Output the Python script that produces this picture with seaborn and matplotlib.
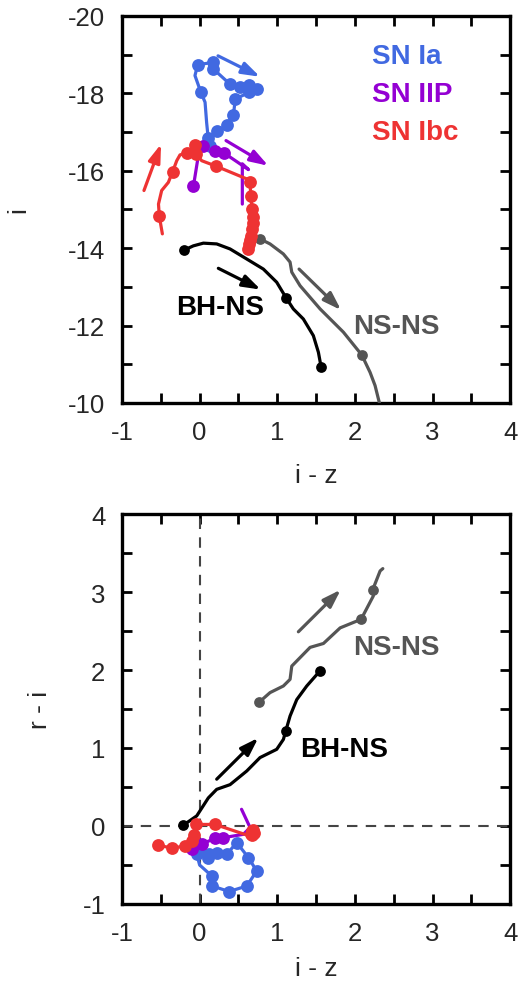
import numpy as np
import pandas as pd
import matplotlib
matplotlib.use("Agg")
import matplotlib.pyplot as plt
import seaborn as sns

# ---------------- colours ----------------
C_IA = "#4169E1"
C_IIP = "#9400D3"
C_IBC = "#EE3333"
C_NSNS = "#555555"
C_BHNS = "#000000"

# ---------------- upper panel: i vs i-z ----------------
# SN Ia
ia_top_x = [0.12, 0.09, 0.07, 0.014, -0.06, -0.025, 0.17, 0.177, 0.39, 0.52, 0.64, 0.63, 0.735,
            0.46, 0.435, 0.35, 0.23, 0.11, 0.14]
ia_top_y = [-16.65, -17.25, -17.77, -18.04, -18.46, -18.74, -18.80, -18.63, -18.24, -18.16, -18.22,
            -18.03, -18.11, -17.86, -17.44, -17.18, -17.02, -16.84, -16.65]
ia_top_dot = [0, 0, 0, 1, 0, 1, 1, 1, 1, 1, 1, 1, 1, 1, 1, 1, 1, 1, 1]

# SN IIP
iip_top_x = [-0.08, -0.02, 0.0, 0.04, 0.198, 0.314, 0.63, 0.55, 0.55]
iip_top_y = [-15.60, -16.35, -16.60, -16.65, -16.52, -16.46, -16.03, -16.18, -15.14]
iip_top_dot = [1, 0, 0, 1, 1, 1, 0, 0, 0]

# SN Ibc
ibc_top_x = [-0.48, -0.519, -0.53, -0.489, -0.403, -0.347, -0.295, -0.253, -0.166, -0.059,
             -0.046, 0.027, 0.211, 0.607, 0.65, 0.658, 0.675, 0.685, 0.683, 0.675, 0.66, 0.645,
             0.635, 0.628]
ibc_top_y = [-14.37, -14.82, -15.14, -15.49, -15.70, -15.98, -16.26, -16.41, -16.46, -16.67,
             -16.43, -16.26, -16.12, -15.79, -15.70, -15.36, -15.01, -14.80, -14.65, -14.50,
             -14.32, -14.20, -14.11, -13.98]
ibc_top_dot = [0, 1, 0, 0, 0, 1, 0, 0, 1, 1, 1, 0, 1, 0, 1, 1, 1, 1, 1, 1, 1, 1, 1, 1]

# NS-NS merger
nsns_top_x = [0.778, 0.907, 1.079, 1.165, 1.187, 1.294, 1.552, 1.852, 2.089, 2.196, 2.26, 2.316]
nsns_top_y = [-14.24, -14.11, -13.85, -13.64, -13.38, -13.03, -12.43, -11.83, -11.24, -10.79,
              -10.45, -10.0]
nsns_top_dot = [1, 0, 0, 0, 0, 0, 0, 0, 1, 0, 0, 0]

# BH-NS merger
bhns_top_x = [-0.201, -0.081, 0.048, 0.22, 0.392, 0.607, 0.821, 0.993, 1.113, 1.207, 1.336,
              1.465, 1.53, 1.564]
bhns_top_y = [-13.95, -14.06, -14.13, -14.11, -13.98, -13.72, -13.46, -13.12, -12.72, -12.43,
              -12.17, -11.74, -11.31, -10.94]
bhns_top_dot = [1, 0, 0, 0, 0, 0, 0, 0, 1, 0, 0, 0, 0, 1]

# direction-of-time arrows (start x, start y, end x, end y)
arrows_top = [
    (0.237, -18.97, 0.778, -18.43, C_IA),
    (0.34, -16.78, 0.885, -16.13, C_IIP),
    (-0.717, -15.49, -0.497, -16.69, C_IBC),
    (0.241, -13.48, 0.787, -12.93, C_BHNS),
    (1.281, -13.46, 1.822, -12.40, C_NSNS),
]

# ---------------- lower panel: r-i vs i-z ----------------
ia_bot_x = [0.08, 0.0, -0.037, 0.0, 0.156, 0.164, 0.379, 0.607, 0.735, 0.628, 0.478, 0.349,
            0.22, 0.104, 0.12]
ia_bot_y = [-0.33, -0.30, -0.363, -0.50, -0.64, -0.77, -0.84, -0.77, -0.577, -0.405, -0.213,
            -0.363, -0.34, -0.405, -0.36]
ia_bot_dot = [0, 1, 1, 0, 1, 1, 1, 1, 1, 1, 1, 1, 1, 1, 1]

iip_bot_x = [-0.102, 0.027, 0.198, 0.305, 0.563, 0.65, 0.54]
iip_bot_y = [-0.29, -0.23, -0.16, -0.15, -0.107, -0.02, 0.214]
iip_bot_dot = [1, 1, 1, 1, 0, 0, 0]

ibc_bot_x = [-0.532, -0.36, -0.188, -0.102, -0.072, -0.046, 0.198, 0.649, 0.67, 0.69, 0.70,
             0.68, 0.66]
ibc_bot_y = [-0.25, -0.28, -0.26, -0.19, -0.11, 0.02, 0.02, -0.13, -0.06, -0.05, -0.09,
             -0.12, -0.10]
ibc_bot_dot = [1, 1, 1, 1, 1, 1, 1, 0, 1, 1, 1, 1, 1]

nsns_bot_x = [0.77, 0.907, 1.079, 1.165, 1.187, 1.423, 1.595, 1.81, 2.08, 2.238, 2.23, 2.325,
              2.36]
nsns_bot_y = [1.59, 1.71, 1.795, 1.88, 2.05, 2.29, 2.34, 2.54, 2.65, 2.95, 3.03, 3.27, 3.30]
nsns_bot_dot = [1, 0, 0, 0, 0, 0, 0, 0, 1, 0, 1, 0, 0]

bhns_bot_x = [-0.21, -0.037, 0.112, 0.22, 0.392, 0.607, 0.778, 0.993, 1.079, 1.11, 1.165,
              1.251, 1.38, 1.552]
bhns_bot_y = [0.01, 0.13, 0.36, 0.47, 0.53, 0.705, 0.877, 0.983, 1.11, 1.22, 1.41, 1.62,
              1.795, 1.99]
bhns_bot_dot = [1, 0, 0, 0, 0, 0, 0, 0, 0, 1, 0, 0, 0, 1]

arrows_bot = [
    (0.22, 0.60, 0.756, 1.13, C_BHNS),
    (1.272, 2.49, 1.818, 3.03, C_NSNS),
]

legend_names = ["SN Ia", "SN IIP", "SN Ibc"]
legend_colors = [C_IA, C_IIP, C_IBC]

sns.set_theme(style="ticks")
plt.rcParams["font.family"] = ["Liberation Sans", "DejaVu Sans"]

fig = plt.figure(figsize=(5.27, 9.87), dpi=100)
ax1 = fig.add_axes([0.2315, 0.5907, 0.7365, 0.3921])
ax2 = fig.add_axes([0.2315, 0.0831, 0.7365, 0.3951])


def track(ax, xs, ys, dots, color, lw=2.3, ms=60, z=3):
    df = pd.DataFrame({"x": xs, "y": ys, "dot": dots})
    sns.lineplot(data=df, x="x", y="y", sort=False, estimator=None, color=color,
                 lw=lw, ax=ax, zorder=z)
    d = df[df["dot"] == 1]
    sns.scatterplot(data=d, x="x", y="y", color=color, s=ms, edgecolor=color,
                    linewidth=0, ax=ax, zorder=z + 0.1)


def arrows(ax, specs):
    for x0, y0, x1, y1, c in specs:
        ax.annotate("", xy=(x1, y1), xytext=(x0, y0),
                    arrowprops=dict(arrowstyle="-|>,head_length=0.9,head_width=0.3",
                                    lw=2.3, color=c, shrinkA=0, shrinkB=0), zorder=5)


# upper panel
track(ax1, nsns_top_x, nsns_top_y, nsns_top_dot, C_NSNS, ms=60)
track(ax1, bhns_top_x, bhns_top_y, bhns_top_dot, C_BHNS, ms=60)
track(ax1, ia_top_x, ia_top_y, ia_top_dot, C_IA, ms=85)
track(ax1, iip_top_x, iip_top_y, iip_top_dot, C_IIP, ms=85)
track(ax1, ibc_top_x, ibc_top_y, ibc_top_dot, C_IBC, ms=85)
arrows(ax1, arrows_top)

for k, (name, col) in enumerate(zip(legend_names, legend_colors)):
    ax1.text(2.22, -18.97 + 0.99 * k, name, color=col, fontsize=20, fontweight="bold",
             ha="left", va="center")
ax1.text(-0.304, -12.48, "BH-NS", color=C_BHNS, fontsize=20, fontweight="bold",
         ha="left", va="center")
ax1.text(1.98, -12.0, "NS-NS", color=C_NSNS, fontsize=20, fontweight="bold",
         ha="left", va="center")

ax1.set_xlim(-1, 4)
ax1.set_ylim(-10, -20)
ax1.set_xticks(np.arange(-1, 4.01, 1))
ax1.set_xticks(np.arange(-0.5, 4, 1), minor=True)
ax1.set_yticks(np.arange(-20, -9.9, 2))
ax1.set_yticks(np.arange(-19, -10, 2), minor=True)
ax1.set_xticklabels([f"{v:d}" for v in range(-1, 5)])
ax1.set_yticklabels([f"{v:d}" for v in range(-20, -9, 2)])
ax1.set_xlabel("i - z", fontsize=19, labelpad=14)
ax1.set_ylabel("i", fontsize=19, labelpad=27)

# lower panel
ax2.axhline(0, color="#444444", lw=1.5, ls=(0, (5, 4)), zorder=1)
ax2.axvline(0, color="#444444", lw=1.5, ls=(0, (5, 4)), zorder=1)
track(ax2, nsns_bot_x, nsns_bot_y, nsns_bot_dot, C_NSNS, ms=60)
track(ax2, bhns_bot_x, bhns_bot_y, bhns_bot_dot, C_BHNS, ms=60)
track(ax2, ia_bot_x, ia_bot_y, ia_bot_dot, C_IA, ms=85)
track(ax2, iip_bot_x, iip_bot_y, iip_bot_dot, C_IIP, ms=85)
track(ax2, ibc_bot_x, ibc_bot_y, ibc_bot_dot, C_IBC, ms=85)
arrows(ax2, arrows_bot)

ax2.text(1.294, 0.99, "BH-NS", color=C_BHNS, fontsize=20, fontweight="bold",
         ha="left", va="center")
ax2.text(1.98, 2.29, "NS-NS", color=C_NSNS, fontsize=20, fontweight="bold",
         ha="left", va="center")

ax2.set_xlim(-1, 4)
ax2.set_ylim(-1, 4)
ax2.set_xticks(np.arange(-1, 4.01, 1))
ax2.set_xticks(np.arange(-0.5, 4, 1), minor=True)
ax2.set_yticks(np.arange(-1, 4.01, 1))
ax2.set_yticks(np.arange(-0.5, 4, 1), minor=True)
ax2.set_xticklabels([f"{v:d}" for v in range(-1, 5)])
ax2.set_yticklabels([f"{v:d}" for v in range(-1, 5)])
ax2.set_xlabel("i - z", fontsize=19, labelpad=8)
ax2.set_ylabel("r - i", fontsize=19, labelpad=22)

for ax in (ax1, ax2):
    for s in ax.spines.values():
        s.set_linewidth(2.4)
        s.set_color("black")
        s.set_visible(True)
    ax.tick_params(which="both", direction="in", top=True, right=True,
                   labelsize=18.5, width=2, color="black", pad=12)
    ax.tick_params(which="major", length=7)
    ax.tick_params(which="minor", length=7)
    ax.set_facecolor("white")

fig.savefig("out.png", dpi=100, facecolor="white")
